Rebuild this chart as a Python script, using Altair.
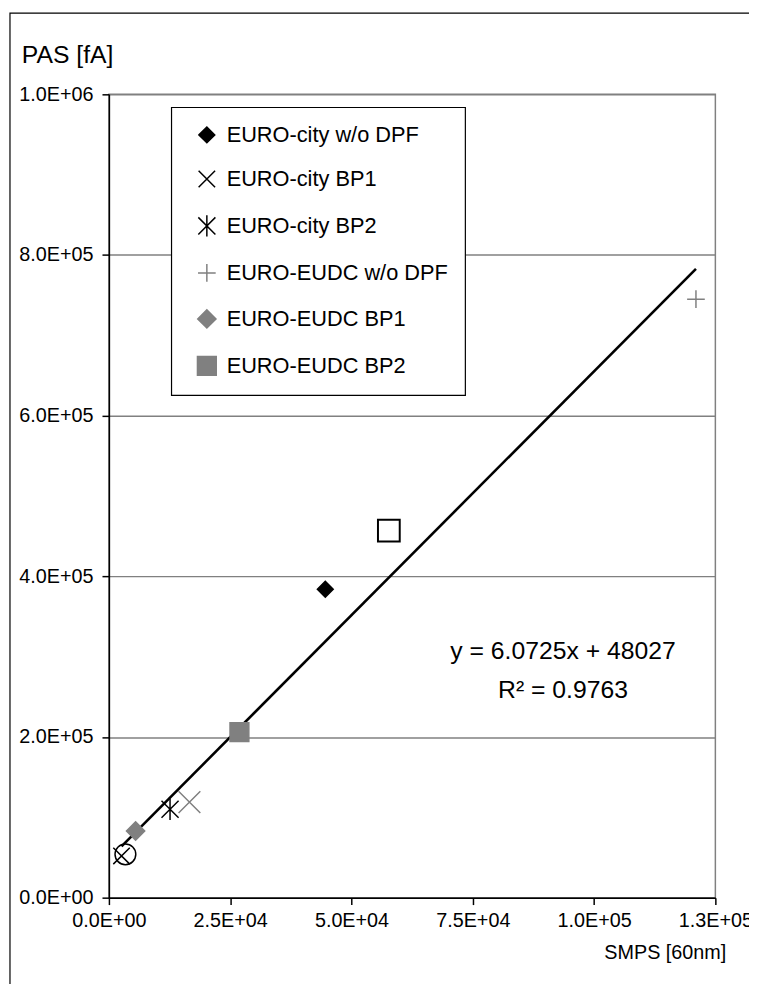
import altair as alt
import pandas as pd

# ---- data ----
series = ["EURO-city w/o DPF", "EURO-city BP1", "EURO-city BP2",
          "EURO-EUDC w/o DPF", "EURO-EUDC BP1", "EURO-EUDC BP2"]
smps = [44600, 2600, 12600, 121000, 5500, 26900]
pas = [384000, 52000, 110000, 745000, 83000, 206000]

extra_names = ["open square", "open circle", "grey cross"]
extra_smps = [57700, 3400, 16600]
extra_pas = [457000, 54000, 119000]

slope = 6.0725
intercept = 48027
r_squared = 0.9763

x_ticks = [0, 25000, 50000, 75000, 100000, 125000]
x_tick_labels = ["0.0E+00", "2.5E+04", "5.0E+04", "7.5E+04", "1.0E+05", "1.3E+05"]
y_ticks = [0, 200000, 400000, 600000, 800000, 1000000]
y_tick_labels = ["0.0E+00", "2.0E+05", "4.0E+05", "6.0E+05", "8.0E+05", "1.0E+06"]

# ---- tables ----
df = pd.DataFrame({"series": series, "smps": smps, "pas": pas})
extras = pd.DataFrame({"name": extra_names, "smps": extra_smps, "pas": extra_pas})
x_lo, x_hi = min(smps), max(smps)
trend = pd.DataFrame({"smps": [x_lo, x_hi],
                      "pas": [slope * x_lo + intercept, slope * x_hi + intercept]})

FONT = "Liberation Sans"
GREY = "#808080"
X_PATH = "M-1,-1L1,1M-1,1L1,-1"
AST_PATH = "M-1,-1L1,1M-1,1L1,-1M0,-1.25L0,1.25"
PLUS_PATH = "M-1,0L1,0M0,-1L0,1"


def label_expr(ticks, labels):
    t = ",".join(str(v) for v in ticks)
    l = ",".join("'" + s + "'" for s in labels)
    return "[" + l + "][indexof([" + t + "], datum.value)]"


x_enc = alt.X("smps:Q", scale=alt.Scale(domain=[0, 125000], nice=False), title=None,
              axis=alt.Axis(values=x_ticks, labelExpr=label_expr(x_ticks, x_tick_labels),
                            grid=False, labelPadding=6, labelFlush=False))
y_enc = alt.Y("pas:Q", scale=alt.Scale(domain=[0, 1000000], nice=False), title=None,
              axis=alt.Axis(values=y_ticks, labelExpr=label_expr(y_ticks, y_tick_labels),
                            grid=True, labelPadding=9, labelFlush=False))

leg = alt.Legend(
    title=None, orient="none", legendX=63, legendY=13,
    fillColor="white", strokeColor="black",
    padding=17, rowPadding=21.5, symbolSize=250, symbolStrokeWidth=1.5,
    symbolOffset=8, labelOffset=9,
    labelFont=FONT, labelFontSize=22, labelColor="black", labelLimit=400,
)

points = alt.Chart(df).mark_point(filled=False, strokeWidth=1.5, opacity=1).encode(
    x=x_enc, y=y_enc,
    shape=alt.Shape("series:N", scale=alt.Scale(domain=series,
                    range=["diamond", X_PATH, AST_PATH, PLUS_PATH, "diamond", "square"]),
                    legend=leg),
    color=alt.Color("series:N", scale=alt.Scale(domain=series,
                    range=["black", "black", "black", GREY, GREY, GREY]), legend=leg),
    fill=alt.Fill("series:N", scale=alt.Scale(domain=series,
                  range=["black", "transparent", "transparent", "transparent", GREY, GREY]),
                  legend=leg),
    size=alt.Size("series:N", scale=alt.Scale(domain=series,
                  range=[256, 361, 289, 324, 240, 256]), legend=None),
)

line = alt.Chart(trend).mark_line(color="black", strokeWidth=2.6).encode(x="smps:Q", y="pas:Q")

ex = alt.Chart(extras)
ex_square = ex.transform_filter(alt.datum.name == "open square").mark_point(
    shape="square", size=484, color="black", strokeWidth=2, filled=False, opacity=1
).encode(x="smps:Q", y="pas:Q")
ex_circle = ex.transform_filter(alt.datum.name == "open circle").mark_point(
    shape="circle", size=441, color="black", strokeWidth=1.5, filled=False, opacity=1
).encode(x="smps:Q", y="pas:Q")
ex_cross = ex.transform_filter(alt.datum.name == "grey cross").mark_point(
    shape=X_PATH, size=484, color=GREY, strokeWidth=1.5, filled=False, opacity=1
).encode(x="smps:Q", y="pas:Q")

one = alt.Data(values=[{"k": 1}])
eq_text = alt.Chart(one).mark_text(
    text="y = %.4fx + %d" % (slope, intercept), font=FONT, fontSize=25,
    align="center", baseline="middle", color="black"
).encode(x=alt.value(459), y=alt.value(563))
r2_text = alt.Chart(one).mark_text(
    text="R² = %.4f" % r_squared, font=FONT, fontSize=25,
    align="center", baseline="middle", color="black"
).encode(x=alt.value(459), y=alt.value(602))
y_title = alt.Chart(one).mark_text(
    text="PAS [fA]", font=FONT, fontSize=25, align="left", baseline="middle", color="black"
).encode(x=alt.value(-88), y=alt.value(-40))
x_title = alt.Chart(one).mark_text(
    text="SMPS [60nm]", font=FONT, fontSize=20, align="right", baseline="middle", color="black"
).encode(x=alt.value(624), y=alt.value(868))
frame = alt.Chart(one).mark_rect(filled=False, stroke="black", strokeWidth=1.2).encode(
    x=alt.value(-100), x2=alt.value(900), y=alt.value(-82), y2=alt.value(1100))

chart = alt.layer(
    line, points, ex_square, ex_circle, ex_cross, eq_text, r2_text, y_title, x_title, frame
).properties(
    width=613, height=812,
    autosize=alt.AutoSizeParams(type="none"),
    padding={"left": 102, "top": 82, "right": 34, "bottom": 82},
).configure(
    font=FONT, background="white"
).configure_view(
    stroke=GREY, strokeWidth=1.5
).configure_axis(
    labelFont=FONT, labelFontSize=20, labelColor="black",
    domainColor="black", domainWidth=1.5,
    tickColor="black", tickWidth=1.5, tickSize=7,
    gridColor=GREY, gridWidth=1.5,
).configure_legend(
    strokeWidth=1.2,
)

chart.save("out.html", embed_options={"renderer": "svg", "actions": False})
